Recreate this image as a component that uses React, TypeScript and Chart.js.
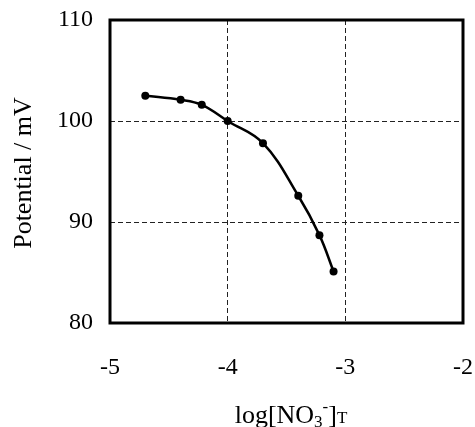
import React, { useEffect, useRef } from "react";
import { Chart, registerables } from "chart.js";

Chart.register(...registerables);

const logConc = [-4.70, -4.40, -4.22, -4.0, -3.70, -3.40, -3.22, -3.10];
const potential = [102.5, 102.1, 101.6, 100.0, 97.8, 92.6, 88.7, 85.1];
const xTicks = [-5, -4, -3, -2];
const yTicks = [80, 90, 100, 110];

const FONT = "'Times New Roman', 'Liberation Serif', serif";

const titlePlugin = {
  id: "customTitles",
  afterDraw(chart: any) {
    const { ctx, chartArea } = chart;
    ctx.save();
    ctx.strokeStyle = "#000";
    ctx.lineWidth = 3;
    ctx.strokeRect(chartArea.left, chartArea.top, chartArea.right - chartArea.left, chartArea.bottom - chartArea.top);

    ctx.fillStyle = "#000";
    ctx.save();
    ctx.translate(24, 173);
    ctx.rotate(-Math.PI / 2);
    ctx.font = `26px ${FONT}`;
    ctx.textAlign = "center";
    ctx.textBaseline = "middle";
    ctx.fillText("Potential / mV", 0, 0);
    ctx.restore();

    const big = `26px ${FONT}`;
    const small = `17px ${FONT}`;
    const parts = [
      { t: "log[NO", f: big, dy: 0 },
      { t: "3", f: small, dy: 4 },
      { t: "-", f: small, dy: -11 },
      { t: "]", f: big, dy: 0 },
      { t: "T", f: small, dy: 0 },
    ];
    let total = 0;
    const widths: number[] = [];
    parts.forEach((p) => {
      ctx.font = p.f;
      const w = ctx.measureText(p.t).width;
      widths.push(w);
      total += w;
    });
    let x = 291 - total / 2;
    const baseY = 423;
    ctx.textAlign = "left";
    ctx.textBaseline = "alphabetic";
    parts.forEach((p, i) => {
      ctx.font = p.f;
      ctx.fillText(p.t, x, baseY + p.dy);
      x += widths[i];
    });
    ctx.restore();
  },
};

export default function App() {
  const ref = useRef<HTMLCanvasElement | null>(null);
  useEffect(() => {
    if (!ref.current) return;
    const chart = new Chart(ref.current, {
      type: "scatter",
      data: {
        datasets: [
          {
            data: logConc.map((x, i) => ({ x, y: potential[i] })),
            showLine: true,
            borderColor: "#000",
            backgroundColor: "#000",
            borderWidth: 2.5,
            pointRadius: 4,
            pointBackgroundColor: "#000",
            pointBorderWidth: 0,
            tension: 0.4,
          },
        ],
      },
      options: {
        responsive: false,
        animation: false,
        layout: { padding: { top: 20, right: 12, left: 0, bottom: 0 } },
        plugins: { legend: { display: false }, tooltip: { enabled: false } },
        scales: {
          x: {
            type: "linear",
            min: -5,
            max: -2,
            afterFit: (s: any) => {
              s.height = 104;
              s.paddingLeft = 0;
              s.paddingRight = 0;
            },
            afterBuildTicks: (s: any) => {
              s.ticks = xTicks.map((v) => ({ value: v }));
            },
            ticks: {
              font: { family: FONT, size: 24 },
              color: "#000",
              padding: 30,
              maxRotation: 0,
            },
            grid: { color: "#222", lineWidth: 1, drawTicks: false },
            border: { display: false, dash: [5, 3] },
          },
          y: {
            type: "linear",
            min: 80,
            max: 110,
            afterFit: (s: any) => {
              s.width = 110;
              s.paddingTop = 0;
              s.paddingBottom = 0;
            },
            afterBuildTicks: (s: any) => {
              s.ticks = yTicks.map((v) => ({ value: v }));
            },
            ticks: {
              font: { family: FONT, size: 24 },
              color: "#000",
              padding: 17,
            },
            grid: { color: "#222", lineWidth: 1, drawTicks: false },
            border: { display: false, dash: [5, 3] },
          },
        },
      },
      plugins: [titlePlugin],
    });
    return () => chart.destroy();
  }, []);
  return (
    <div style={{ position: "absolute", left: 0, top: 0, width: 475, height: 427, background: "#fff" }}>
      <canvas ref={ref} width={475} height={427} />
    </div>
  );
}
